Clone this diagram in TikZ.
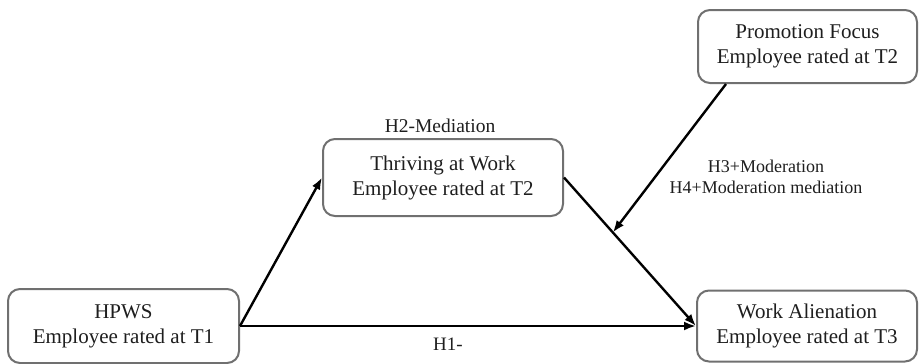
\documentclass[tikz,border=0pt]{standalone}
\usepackage{fontspec}
\setmainfont{Liberation Serif}
\usetikzlibrary{arrows.meta,calc}
\definecolor{boxgray}{HTML}{707070}
\definecolor{txt}{HTML}{1E1E1E}
\begin{document}
\begin{tikzpicture}[x=1pt,y=-1pt,
  box/.style={draw=boxgray,line width=2pt,rounded corners=12pt,align=center,
    text=txt,font=\fontsize{21}{25}\selectfont,inner sep=0pt},
  lbl/.style={text=txt,align=center,inner sep=0pt},
  arr/.style={line width=2.4pt,-{Latex[length=12pt,width=9pt]}},
  ln/.style={line width=2.4pt}]
\useasboundingbox (0,0) rectangle (919,364);
\node[box,minimum width=231pt,minimum height=74pt] (hp) at (123.5,326) {HPWS\\Employee rated at T1};
\node[box,minimum width=240pt,minimum height=77pt] (th) at (443,177.5) {Thriving at Work\\Employee rated at T2};
\node[box,minimum width=219pt,minimum height=73pt] (pf) at (807.5,46.5) {Promotion Focus\\Employee rated at T2};
\node[box,minimum width=220pt,minimum height=71pt] (wa) at (807,326) {Work Alienation\\Employee rated at T3};
\node[lbl,font=\fontsize{19.5}{22}\selectfont] (h2) at (440,126) {H2-Mediation};
\node[lbl,font=\fontsize{18}{21}\selectfont] (h34) at (766,177) {H3+Moderation\\H4+Moderation mediation};
\node[lbl,font=\fontsize{19}{22}\selectfont] (h1) at (448,344) {H1-};
\coordinate (mid) at ($(th.east)!0.37!(wa.west)$);
\coordinate (pfs) at ([xshift=29pt]pf.south west);
\draw[arr] (hp.east) -- (th.west);
\draw[arr] (hp.east) -- (wa.west);
\draw[arr] (th.east) -- (wa.west);
\draw[arr] (pfs) -- (mid);
\end{tikzpicture}
\end{document}
